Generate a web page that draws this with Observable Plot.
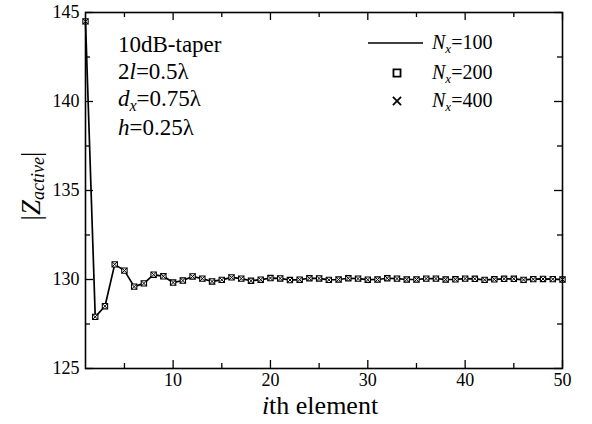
<!DOCTYPE html>
<html>
<head>
<meta charset="utf-8">
<script src="https://cdn.jsdelivr.net/npm/d3@7"></script>
<script src="https://cdn.jsdelivr.net/npm/@observablehq/plot@0.6"></script>
<style>
  body { margin: 0; background: #fff; }
  #chart { width: 592px; height: 424px; }
</style>
</head>
<body>
<div id="chart"></div>
<script>
// Element index along the array
const element = [1, 2, 3, 4, 5, 6, 7, 8, 9, 10,
  11, 12, 13, 14, 15, 16, 17, 18, 19, 20,
  21, 22, 23, 24, 25, 26, 27, 28, 29, 30,
  31, 32, 33, 34, 35, 36, 37, 38, 39, 40,
  41, 42, 43, 44, 45, 46, 47, 48, 49, 50];

// |Z_active| for each element, three truncation sizes Nx
const zNx100 = [144.5, 127.9, 128.5, 130.85, 130.5, 129.6, 129.78, 130.27, 130.18, 129.83,
  129.94, 130.17, 130.05, 129.89, 129.98, 130.12, 130.05, 129.93, 129.99, 130.08,
  130.06, 129.97, 129.99, 130.07, 130.06, 129.98, 130.0, 130.07, 130.05, 129.99,
  130.0, 130.07, 130.05, 130.0, 130.0, 130.05, 130.05, 130.0, 130.01, 130.05,
  130.04, 129.98, 130.01, 130.04, 130.04, 129.98, 130.02, 130.03, 130.02, 130.0];
const zNx200 = [144.5, 127.9, 128.5, 130.85, 130.5, 129.6, 129.78, 130.27, 130.18, 129.83,
  129.94, 130.17, 130.05, 129.89, 129.98, 130.12, 130.05, 129.93, 129.99, 130.08,
  130.06, 129.97, 129.99, 130.07, 130.06, 129.98, 130.0, 130.07, 130.05, 129.99,
  130.0, 130.07, 130.05, 130.0, 130.0, 130.05, 130.05, 130.0, 130.01, 130.05,
  130.04, 129.98, 130.01, 130.04, 130.04, 129.98, 130.02, 130.03, 130.02, 130.0];
const zNx400 = [144.5, 127.9, 128.5, 130.85, 130.5, 129.6, 129.78, 130.27, 130.18, 129.83,
  129.94, 130.17, 130.05, 129.89, 129.98, 130.12, 130.05, 129.93, 129.99, 130.08,
  130.06, 129.97, 129.99, 130.07, 130.06, 129.98, 130.0, 130.07, 130.05, 129.99,
  130.0, 130.07, 130.05, 130.0, 130.0, 130.05, 130.05, 130.0, 130.01, 130.05,
  130.04, 129.98, 130.01, 130.04, 130.04, 129.98, 130.02, 130.03, 130.02, 130.0];

// Tick values
const xMajor = [10, 20, 30, 40, 50];
const xMinor = [5, 15, 25, 35, 45];
const yMajor = [125, 130, 135, 140, 145];
const yMinor = [127.5, 132.5, 137.5, 142.5];

const W = 592, H = 424;
const mL = 85, mR = 30, mT = 12, mB = 56;
const innerW = W - mL - mR, innerH = H - mT - mB;
const majorLen = 8, minorLen = 5;
const font = "Liberation Serif, DejaVu Serif, serif";

const rows = (vals) => element.map((e, i) => ({i: e, z: vals[i]}));

// Inward-pointing ticks on all four sides of the frame
const frameTicks = (vals, len) => [
  Plot.tickX(vals.x, {x: d => d, insetTop: innerH - len, strokeWidth: 1.3}),
  Plot.tickX(vals.x, {x: d => d, insetBottom: innerH - len, strokeWidth: 1.3}),
  Plot.tickY(vals.y, {y: d => d, insetRight: innerW - len, strokeWidth: 1.3}),
  Plot.tickY(vals.y, {y: d => d, insetLeft: innerW - len, strokeWidth: 1.3})
];

const chart = Plot.plot({
  width: W,
  height: H,
  marginLeft: mL,
  marginRight: mR,
  marginTop: mT,
  marginBottom: mB,
  style: {fontFamily: font, fontSize: "18px", color: "#000", background: "#fff"},
  x: {domain: [1, 50]},
  y: {domain: [125, 145]},
  marks: [
    Plot.axisX(xMajor, {tickSize: 0, tickPadding: 5, fontSize: 18, label: null}),
    Plot.axisY(yMajor, {tickSize: 0, tickPadding: 6, fontSize: 18, label: null}),
    ...frameTicks({x: xMajor, y: yMajor}, majorLen),
    ...frameTicks({x: xMinor, y: yMinor}, minorLen),
    Plot.line(rows(zNx100), {x: "i", y: "z", stroke: "#000", strokeWidth: 1.7}),
    Plot.dot(rows(zNx200), {x: "i", y: "z", symbol: "square", r: 3, stroke: "#000", strokeWidth: 1.1, fill: "#fff"}),
    Plot.dot(rows(zNx400), {x: "i", y: "z", symbol: "times", r: 2.6, stroke: "#000", strokeWidth: 1}),
    Plot.frame({stroke: "#000", strokeWidth: 1.6})
  ]
});

document.getElementById("chart").appendChild(chart);

const svg = d3.select(chart);

// Axis titles
const xTitle = svg.append("text")
  .attr("x", 320)
  .attr("y", 414)
  .attr("text-anchor", "middle")
  .attr("font-size", 26)
  .attr("fill", "#000");
xTitle.append("tspan").attr("font-style", "italic").text("i");
xTitle.append("tspan").text("th element");

const yTitle = svg.append("text")
  .attr("transform", "translate(40,186) rotate(-90)")
  .attr("text-anchor", "middle")
  .attr("font-size", 27)
  .attr("fill", "#000");
yTitle.append("tspan").text("|");
yTitle.append("tspan").attr("font-style", "italic").text("Z");
yTitle.append("tspan").attr("font-style", "italic").attr("font-size", 18).attr("dy", 4).text("active");
yTitle.append("tspan").attr("dy", -4).text("|");

// Parameter annotation
const notes = svg.append("g").attr("font-size", 23).attr("fill", "#000").attr("text-anchor", "start");
const n1 = notes.append("text").attr("x", 118).attr("y", 52);
n1.text("10dB-taper");
const n2 = notes.append("text").attr("x", 118).attr("y", 79);
n2.append("tspan").text("2");
n2.append("tspan").attr("font-style", "italic").text("l");
n2.append("tspan").text("=0.5λ");
const n3 = notes.append("text").attr("x", 118).attr("y", 106);
n3.append("tspan").attr("font-style", "italic").text("d");
n3.append("tspan").attr("font-style", "italic").attr("font-size", 16).attr("dy", 5).text("x");
n3.append("tspan").attr("dy", -5).text("=0.75λ");
const n4 = notes.append("text").attr("x", 118).attr("y", 135);
n4.append("tspan").attr("font-style", "italic").text("h");
n4.append("tspan").text("=0.25λ");

// Legend
const legend = svg.append("g").attr("fill", "#000").attr("text-anchor", "start");
const legendRows = [
  {label: "100", y: 43, kind: "line"},
  {label: "200", y: 73, kind: "square"},
  {label: "400", y: 101, kind: "times"}
];
legendRows.forEach(r => {
  if (r.kind === "line") {
    legend.append("line")
      .attr("x1", 368).attr("x2", 423)
      .attr("y1", r.y).attr("y2", r.y)
      .attr("stroke", "#000").attr("stroke-width", 1.6);
  } else {
    const sym = r.kind === "square" ? d3.symbolSquare : d3.symbolTimes;
    const size = r.kind === "square" ? 50 : 45;
    legend.append("path")
      .attr("d", d3.symbol(sym, size)())
      .attr("transform", `translate(397,${r.y})`)
      .attr("fill", "none")
      .attr("stroke", "#000")
      .attr("stroke-width", 1.8);
  }
  const t = legend.append("text")
    .attr("x", 432).attr("y", r.y + 6)
    .attr("font-size", 20);
  t.append("tspan").attr("font-style", "italic").text("N");
  t.append("tspan").attr("font-style", "italic").attr("font-size", 13).attr("dy", 4).text("x");
  t.append("tspan").attr("dy", -4).text("=" + r.label);
});

// Serif face for every label in the figure
svg.attr("font-family", font).style("font-family", font);
svg.selectAll("text, tspan").attr("font-family", font).style("font-family", font);
</script>
</body>
</html>
